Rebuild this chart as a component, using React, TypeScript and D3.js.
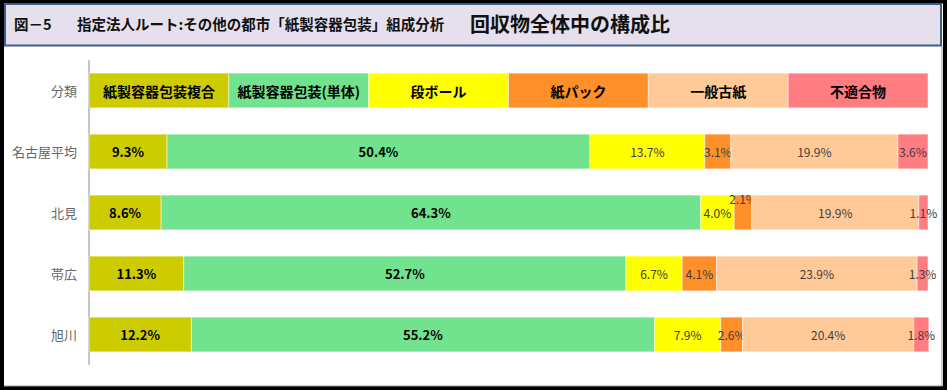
import * as d3 from "d3"

const categories = ["紙製容器包装複合", "紙製容器包装(単体)", "段ボール", "紙パック", "一般古紙", "不適合物"]
const colors = ["#CCCC00", "#71E28D", "#FFFF00", "#FF8F28", "#FFCA98", "#FF7C80"]
const rows = ["名古屋平均", "北見", "帯広", "旭川"]
const nagoya = [9.3, 50.4, 13.7, 3.1, 19.9, 3.6]
const kitami = [8.6, 64.3, 4.0, 2.1, 19.9, 1.1]
const obihiro = [11.3, 52.7, 6.7, 4.1, 23.9, 1.3]
const asahikawa = [12.2, 55.2, 7.9, 2.6, 20.4, 1.8]
const headerLabel = "分類"

const W = 947
const H = 390
const font = "'Noto Sans CJK JP', 'Noto Sans', sans-serif"

export default function App() {
  const series = [nagoya, kitami, obihiro, asahikawa]
  const allRows = [headerLabel, ...rows]

  const table = [
    Object.fromEntries(categories.map((c) => [c, 100 / categories.length])),
    ...series.map((vals) => Object.fromEntries(categories.map((c, i) => [c, vals[i]]))),
  ].map((d, i) => ({ ...d, row: allRows[i] }))

  const stack = d3.stack<any>().keys(categories)(table)

  const x = d3.scaleLinear().domain([0, 100]).range([89, 928])
  const y = d3
    .scaleBand()
    .domain(allRows)
    .range([60, 365])
    .paddingInner(0.43)
    .paddingOuter(0.215)
  const bw = y.bandwidth()

  return (
    <svg
      width={W}
      height={H}
      style={{ position: "absolute", left: 0, top: 0, background: "#fff" }}
      fontFamily={font}
    >
      {/* frame */}
      <rect x={2} y={1.5} width={W - 4} height={H - 3.5} fill="#fff" stroke="#000" strokeWidth={4} />
      <line x1={942} x2={942} y1={46} y2={386} stroke="#999" strokeWidth={1} />
      <line x1={4} x2={942} y1={386} y2={386} stroke="#999" strokeWidth={1} />
      <rect x={5} y={4} width={936} height={41.5} fill="#E6E0EC" stroke="#3E5F8A" strokeWidth={2} />
      <text x={14} y={30} fontSize={14.5} fontWeight={700} fill="#111">
        図－5
      </text>
      <text x={77} y={30} fontSize={14.5} fontWeight={700} fill="#111">
        指定法人ルート:その他の都市「紙製容器包装」組成分析
      </text>
      <text x={470} y={32} fontSize={20} fontWeight={700} fill="#111">
        回収物全体中の構成比
      </text>

      {/* axis */}
      <line x1={89} x2={89} y1={60} y2={365} stroke="#8c8c8c" strokeWidth={1} />

      {allRows.map((r) => (
        <text
          key={r}
          x={77}
          y={y(r)! + bw / 2}
          textAnchor="end"
          dominantBaseline="central"
          fontSize={13}
          fill="#666"
        >
          {r}
        </text>
      ))}

      {stack.map((s, si) => (
        <g key={s.key} fill={colors[si]}>
          {s.map((d, ri) => {
            const row = allRows[ri]
            const x0 = x(d[0])
            const x1 = x(d[1])
            const cx = (x0 + x1) / 2
            let cy = y(row)! + bw / 2
            const header = ri === 0
            const val = d[1] - d[0]
            // 北見の紙パックはラベルを上にずらす
            if (row === "北見" && s.key === "紙パック") cy -= 14
            return (
              <g key={row}>
                <rect
                  x={x0}
                  y={y(row)!}
                  width={x1 - x0}
                  height={bw}
                  stroke="#fff"
                  strokeOpacity={0.5}
                  strokeWidth={1}
                />
                <text
                  x={cx}
                  y={cy}
                  textAnchor="middle"
                  dominantBaseline="central"
                  fontSize={header ? 14 : si < 2 ? 13 : 12}
                  fontWeight={header || si < 2 ? 700 : 400}
                  fill={header || si < 2 ? "#000" : "#404040"}
                >
                  {header ? s.key : `${val.toFixed(1)}%`}
                </text>
              </g>
            )
          })}
        </g>
      ))}
    </svg>
  )
}
